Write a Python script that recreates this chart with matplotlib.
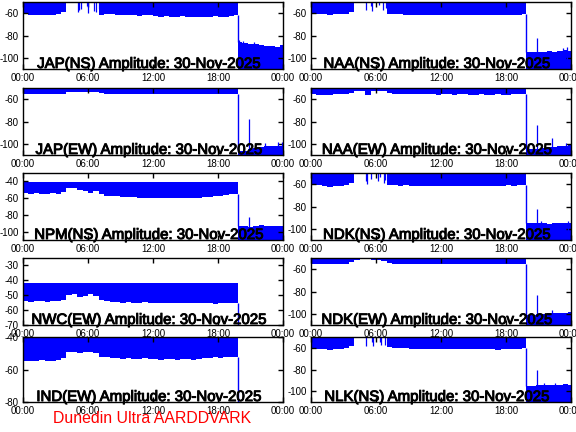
import numpy as np
import matplotlib.pyplot as plt
import matplotlib.patheffects as pe

plt.rcParams['font.family'] = ['Liberation Sans', 'DejaVu Sans']
plt.rcParams['axes.unicode_minus'] = False

# time axis in hours (half-hour steps up to the switch-off)
t_day = np.arange(0, 20, 0.5)
t_switch = 19.85
t_night = [19.85, 20.25, 20.75, 21.25, 21.75, 22.25, 22.75, 23.25, 23.75]

# lower edge of the amplitude band before the switch (dB)
jap_ns_lo = [-61, -61.5, -62, -61.5, -62, -61.5, -61, -59,
             -50, -50, -50, -50, -50, -50,
             -61.5, -61, -61, -61.5, -62, -62, -62, -62.5, -62, -62, -62.5, -63, -62.5,
             -63, -63, -62.5, -63, -63, -63.5, -63, -63, -62.5, -63, -63, -62.5, -62]
jap_ew_lo = [-55, -55.5, -55.5, -55, -55.5, -55, -55.5, -55,
             -54, -54, -53.5, -54, -54, -53.5,
             -54.5, -55, -55, -55, -55.5, -55, -55.5, -55.5, -55, -55.5, -55, -55.5, -55.5,
             -55, -55.5, -55.5, -55, -55.5, -55.5, -55, -55.5, -55.5, -55, -55.5, -55.5, -55]
npm_ns_lo = [-54, -54.5, -54, -55, -54.5, -54, -54.5, -53,
             -48, -48, -50, -52, -54, -52,
             -55, -57, -57.5, -58, -58.5, -59, -59, -59.5, -59.5, -59.5, -60, -60, -59.5,
             -60, -60, -59.5, -60, -60, -59.5, -59, -58.5, -58, -57, -56, -55.5, -55]
nwc_ew_lo = [-54, -54.5, -54, -54, -54.5, -54, -54, -53.5,
             -50, -49, -51, -50.5, -49.5, -50.5,
             -53, -54, -54.5, -54.5, -55, -54.5, -55, -55, -54.5, -55, -55, -55.5, -55,
             -55, -55.5, -55, -55.5, -55.5, -55, -55.5, -55.5, -56, -55.5, -55, -55.5, -55]
ind_ew_lo = [-54.5, -55, -54.5, -54, -54.5, -54.5, -54, -53,
             -49, -49, -50, -49.5, -49, -50,
             -52, -52.5, -53, -53, -53.5, -53, -53.5, -53.5, -53, -53.5, -53.5, -54, -53.5,
             -53.5, -54, -53.5, -53.5, -54, -53.5, -53, -53, -52.5, -53, -52.5, -52.5, -52.5]
naa_ns_lo = [-60.5, -61, -61, -61.5, -61, -61, -60.5, -59,
             -50, -50, -50, -50, -50, -50,
             -61, -61, -61, -61.5, -61.5, -61.5, -62, -61.5, -61.5, -62, -62, -61.5, -62,
             -62, -62, -61.5, -62, -62, -62, -61.5, -62, -62, -61.5, -62, -61.5, -61]
naa_ew_lo = [-55, -56, -56.5, -56, -55.5, -55.5, -55, -54.5,
             -52.5, -53, -56, -53, -52.5, -53,
             -54.5, -55, -55, -55.5, -55, -55.5, -55.5, -55, -55.5, -56, -55.5, -55.5, -56,
             -55.5, -55.5, -56, -56, -55.5, -56, -56, -55.5, -56, -56, -55.5, -55.5, -55]
ndk_ns_lo = [-60, -61, -62, -62.5, -62, -61.5, -61, -59,
             -50, -50, -50, -50, -50, -50,
             -61, -61, -61.5, -61, -61.5, -62, -61.5, -61.5, -62, -61.5, -61.5, -62, -61.5,
             -62, -61.5, -61.5, -62, -61.5, -61.5, -62, -61.5, -61.5, -61, -61.5, -61, -60.5]
ndk_ew_lo = [-55, -55.5, -55.5, -55, -55.5, -55, -55, -54,
             -51.5, -51, -51, -51.5, -51.5, -52.5,
             -54.5, -55, -55, -55.5, -55, -55.5, -55.5, -55, -55.5, -55.5, -55, -55.5, -55.5,
             -55.5, -55, -55.5, -55.5, -55.5, -55, -55.5, -55.5, -55, -55.5, -55.5, -55, -55]
nlk_ns_lo = [-60.5, -61, -61.5, -62, -61.5, -61, -60.5, -58.5,
             -50, -50, -50, -50, -50, -50,
             -59, -60, -60.5, -60.5, -61, -61, -61, -61, -61.5, -61, -61, -61.5, -61,
             -61.5, -61, -61.5, -61.5, -61, -61.5, -61.5, -62, -61.5, -61.5, -61, -61, -60.5]

# upper edge of the band before the switch
jap_ns_hi = -50
jap_ew_hi = -50
npm_ns_hi = -41
nwc_ew_hi = -41.5
ind_ew_hi = -40.8
naa_ns_hi = -50
naa_ew_hi = -50
ndk_ns_hi = -50
ndk_ew_hi = -50
nlk_ns_hi = -50

# dips into the quiet early-morning gap
jap_ns_gap_t = [3.7, 5.05, 5.15, 5.35, 5.9, 6.0, 6.6, 6.75, 7.0]
jap_ns_gap_v = [-57, -59, -57, -56, -54, -60, -58, -59, -56]
naa_ns_gap_t = [3.75, 5.05, 5.5, 5.6, 6.3, 6.65, 6.9]
naa_ns_gap_v = [-55, -57, -54, -58, -53, -57, -55]
ndk_ns_gap_t = [3.7, 5.05, 5.15, 5.55, 6.2, 6.35, 6.7, 6.85]
ndk_ns_gap_v = [-58, -57, -60, -55, -57, -54, -59, -56]
nlk_ns_gap_t = [3.75, 5.05, 5.6, 5.7, 6.35, 6.45, 6.85]
nlk_ns_gap_v = [-55, -58, -55, -58, -55, -57, -57]

# top of the band after the switch
jap_ns_night = [-86, -87, -88, -88, -88.5, -89, -89.5, -90, -88.5]
jap_ew_night = [-106, -106, -105, -104, -103, -102, -102, -101.5, -102]
npm_ns_night = [-93, -93.5, -94, -93, -92.5, -93, -93, -93.5, -93]
naa_ns_night = [-95, -95, -94.5, -94.5, -94, -94.5, -94, -93, -93.5]
naa_ew_night = [-105, -105, -104.5, -104, -103, -102.5, -102, -101.5, -101]
ndk_ns_night = [-95, -95, -95, -95, -95.5, -95, -95, -95, -95]
ndk_ew_night = [-101, -101, -100, -100, -99, -99, -99, -99, -98.5]
nlk_ns_night = [-95, -95, -94.5, -94, -94, -94, -94, -93.5, -94]

# single spikes after the switch
jap_ns_sp_t, jap_ns_sp_v = [19.95, 20.3, 21.3], [-84, -85, -86]
jap_ew_sp_t, jap_ew_sp_v = [20.9, 22.3, 23.5, 23.9], [-78, -99, -98, -98]
npm_ns_sp_t, npm_ns_sp_v = [20.9], [-82]
naa_ns_sp_t, naa_ns_sp_v = [20.9, 23.3, 23.6], [-82, -91, -90]
naa_ew_sp_t, naa_ew_sp_v = [20.9, 22.2, 23.5], [-83, -95, -99]
ndk_ns_sp_t, ndk_ns_sp_v = [20.9, 21.2, 23.7], [-82, -93, -93]
ndk_ew_sp_t, ndk_ew_sp_v = [20.9, 22.2], [-83, -97]
nlk_ns_sp_t, nlk_ns_sp_v = [20.9, 21.5, 22.5], [-80, -92, -92]

x_ticks = [0, 6, 12, 18, 24]
x_labels = ['00:00', '06:00', '12:00', '18:00', '00:00']

panels = [
    # name, column, row, ylim, yticks, lo, hi, gap, night, spikes
    ('JAP(NS)', 0, 0, (-110, -50), [-100, -80, -60], jap_ns_lo, jap_ns_hi,
     (jap_ns_gap_t, jap_ns_gap_v), jap_ns_night, (jap_ns_sp_t, jap_ns_sp_v)),
    ('JAP(EW)', 0, 1, (-110, -50), [-100, -80, -60], jap_ew_lo, jap_ew_hi,
     None, jap_ew_night, (jap_ew_sp_t, jap_ew_sp_v)),
    ('NPM(NS)', 0, 2, (-110, -30), [-100, -80, -60, -40], npm_ns_lo, npm_ns_hi,
     None, npm_ns_night, (npm_ns_sp_t, npm_ns_sp_v)),
    ('NWC(EW)', 0, 3, (-70, -25), [-70, -60, -50, -40, -30], nwc_ew_lo, nwc_ew_hi,
     None, None, None),
    ('IND(EW)', 0, 4, (-80, -40), [-80, -60, -40], ind_ew_lo, ind_ew_hi,
     None, None, None),
    ('NAA(NS)', 1, 0, (-110, -50), [-100, -80, -60], naa_ns_lo, naa_ns_hi,
     (naa_ns_gap_t, naa_ns_gap_v), naa_ns_night, (naa_ns_sp_t, naa_ns_sp_v)),
    ('NAA(EW)', 1, 1, (-110, -50), [-100, -80, -60], naa_ew_lo, naa_ew_hi,
     None, naa_ew_night, (naa_ew_sp_t, naa_ew_sp_v)),
    ('NDK(NS)', 1, 2, (-110, -50), [-100, -80, -60], ndk_ns_lo, ndk_ns_hi,
     (ndk_ns_gap_t, ndk_ns_gap_v), ndk_ns_night, (ndk_ns_sp_t, ndk_ns_sp_v)),
    ('NDK(EW)', 1, 3, (-110, -50), [-100, -80, -60], ndk_ew_lo, ndk_ew_hi,
     None, ndk_ew_night, (ndk_ew_sp_t, ndk_ew_sp_v)),
    ('NLK(NS)', 1, 4, (-110, -50), [-100, -80, -60], nlk_ns_lo, nlk_ns_hi,
     (nlk_ns_gap_t, nlk_ns_gap_v), nlk_ns_night, (nlk_ns_sp_t, nlk_ns_sp_v)),
]

W, H = 576, 432
col_left = [23, 311]
row_top = [2, 88, 173, 258, 337]
row_bottom = [69, 155, 240, 325, 402]

fig = plt.figure(figsize=(W / 100, H / 100), dpi=100)

for name, col, row, ylim, yticks, lo, hi, gap, night, spikes in panels:
    x0 = col_left[col]
    ax = fig.add_axes([x0 / W, 1 - row_bottom[row] / H, 260 / W,
                       (row_bottom[row] - row_top[row]) / H])
    ymin, ymax = ylim

    # band before the switch
    tt = np.append(t_day, t_switch)
    ll = np.append(lo, lo[-1])
    ax.fill_between(tt, ll, hi, step='post', color='blue', lw=0)
    if gap is not None:
        ax.vlines(gap[0], gap[1], ymax, color='blue', lw=0.9)

    # after the switch
    if night is None:
        ax.vlines(t_switch, ymin - 5, lo[-1], color='blue', lw=1)
    else:
        tn = np.append(t_night, 24)
        nn = np.append(night, night[-1])
        ax.fill_between(tn, nn, ymin - 10, step='post', color='blue', lw=0)
        ax.vlines(t_switch, night[0], lo[-1], color='blue', lw=1)
        ax.vlines(spikes[0], ymin - 5, spikes[1], color='blue', lw=0.9)

    ax.set_xlim(0, 24)
    ax.set_ylim(ymin, ymax)
    ax.set_xticks(x_ticks)
    ax.set_xticklabels(x_labels)
    ax.set_yticks(yticks)
    ax.tick_params(direction='in', top=True, right=True, length=3.5, width=1,
                   labelsize=7, pad=3)
    for s in ax.spines.values():
        s.set_linewidth(1)
        s.set_zorder(5)

    ax.text(0.485, 0.015, name + ' Amplitude: 30-Nov-2025', transform=ax.transAxes,
            ha='center', va='baseline', fontsize=10.8, color='black', zorder=10,
            path_effects=[pe.withStroke(linewidth=0.7, foreground='black')])

fig.text(53 / W, 1 - 423 / H, 'Dunedin Ultra AARDDVARK', color='red',
         fontsize=11.4, ha='left', va='baseline')

fig.savefig('out.png', dpi=100)
